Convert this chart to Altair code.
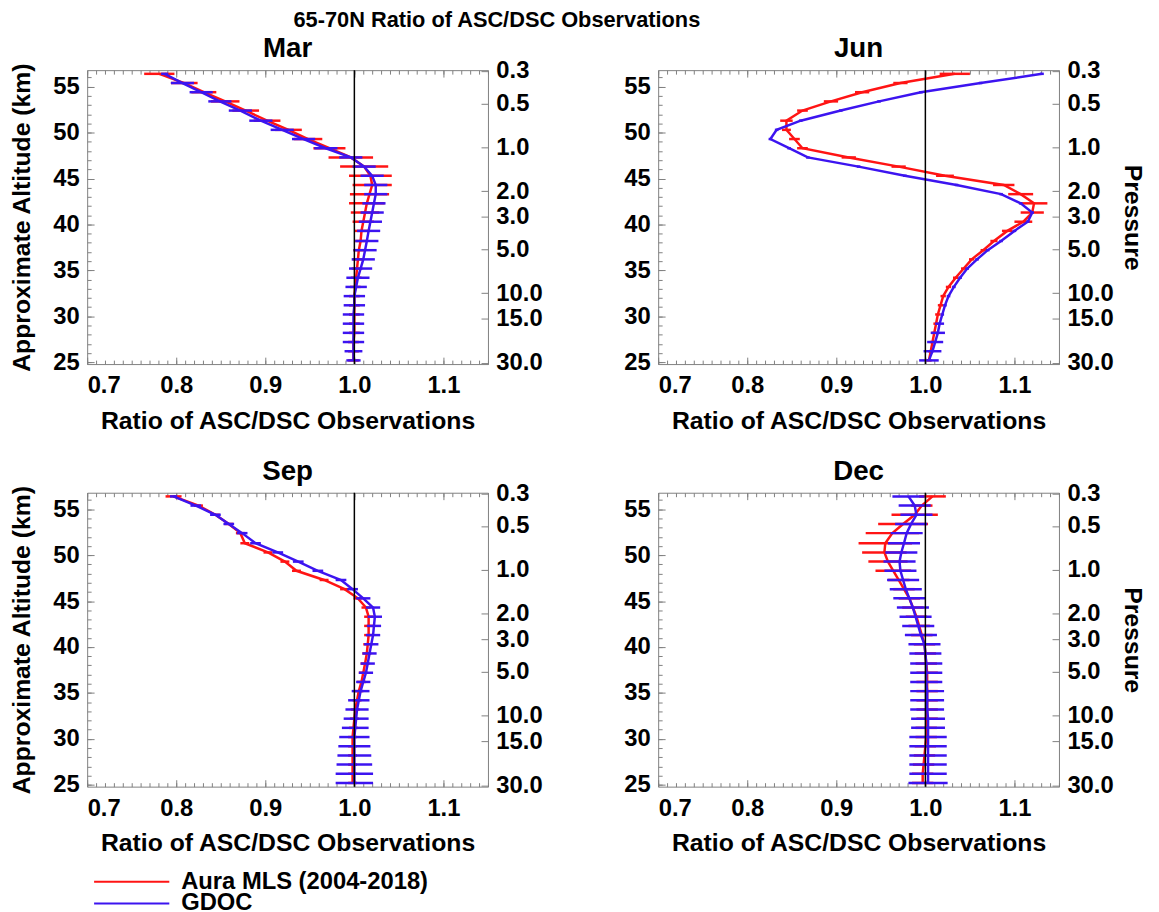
import altair as alt
import numpy as np
import pandas as pd

# ---------------- data ----------------
ALT_KM = [25.2, 26.2, 27.2, 28.2, 29.2, 30.2, 31.2, 32.2, 33.2, 34.2, 35.2, 36.2, 37.2, 38.2,
          39.3, 40.3, 41.3, 42.3, 43.3, 44.3, 45.3, 46.3, 47.3, 48.3, 49.3, 50.3, 51.3,
          52.4, 53.4, 54.4, 55.4, 56.4]

SERIES = ["Aura MLS (2004-2018)", "GDOC"]

MAR_MLS = [0.999, 0.999, 0.999, 1.000, 1.000, 1.000, 1.000, 1.000, 1.001, 1.002, 1.003, 1.004, 1.005, 1.007,
           1.008, 1.010, 1.012, 1.014, 1.017, 1.020, 1.018, 1.011, 0.996, 0.972, 0.948, 0.926, 0.902,
           0.878, 0.855, 0.831, 0.809, 0.781]
MAR_MLS_ERR = [0.006] * 14 + [0.008, 0.012, 0.016, 0.020, 0.022, 0.022, 0.024, 0.027, 0.025, 0.018, 0.016,
                              0.015, 0.015, 0.015, 0.016, 0.014, 0.015, 0.017]
MAR_GDOC = [0.999, 0.999, 0.999, 0.999, 0.999, 0.999, 1.000, 1.000, 1.002, 1.004, 1.007, 1.010, 1.012, 1.014,
            1.016, 1.018, 1.020, 1.022, 1.024, 1.024, 1.020, 1.011, 0.996, 0.968, 0.943, 0.919, 0.895,
            0.872, 0.849, 0.828, 0.807, 0.787]
MAR_GDOC_ERR = [0.008, 0.010] + [0.012] * 7 + [0.013] * 22 + [0.004]

JUN_MLS = [1.004, 1.006, 1.008, 1.010, 1.012, 1.014, 1.017, 1.020, 1.026, 1.034, 1.043, 1.052, 1.065, 1.077,
           1.092, 1.110, 1.120, 1.122, 1.107, 1.088, 1.022, 0.970, 0.914, 0.862, 0.853, 0.844, 0.844,
           0.862, 0.894, 0.929, 0.972, 1.033]
JUN_MLS_ERR = [0.003] * 13 + [0.004, 0.006, 0.010, 0.013, 0.015, 0.014, 0.012, 0.010, 0.008, 0.008, 0.006,
                              0.006, 0.005, 0.007, 0.006, 0.008, 0.008, 0.008, 0.017]
JUN_GDOC = [1.004, 1.008, 1.011, 1.014, 1.016, 1.019, 1.022, 1.026, 1.032, 1.039, 1.047, 1.058, 1.070, 1.085,
            1.100, 1.115, 1.120, 1.107, 1.085, 1.035, 0.977, 0.925, 0.868, 0.847, 0.826, 0.833, 0.860,
            0.905, 0.948, 0.995, 1.062, 1.131]
JUN_GDOC_ERR = [0.011, 0.010, 0.009, 0.008, 0.005] + [0.002] * 27

SEP_MLS = [0.998, 0.998, 0.998, 0.998, 0.998, 0.998, 0.999, 1.000, 1.001, 1.003, 1.005, 1.008, 1.010, 1.012,
           1.014, 1.015, 1.016, 1.016, 1.016, 1.013, 1.004, 0.989, 0.966, 0.935, 0.922, 0.903, 0.877,
           0.872, 0.859, 0.844, 0.825, 0.797]
SEP_MLS_ERR = [0.005] * 31 + [0.009]
SEP_GDOC = [1.000, 1.000, 1.000, 1.000, 1.000, 1.000, 1.001, 1.002, 1.003, 1.005, 1.007, 1.010, 1.013, 1.015,
            1.017, 1.019, 1.021, 1.022, 1.023, 1.021, 1.010, 0.998, 0.985, 0.959, 0.937, 0.914, 0.889,
            0.874, 0.859, 0.844, 0.822, 0.797]
SEP_GDOC_ERR = [0.021, 0.021, 0.020, 0.019, 0.018, 0.017, 0.015, 0.014, 0.013, 0.012, 0.010] + [0.008] * 10 + \
               [0.006] * 10 + [0.004]

DEC_MLS = [0.997, 0.997, 0.998, 0.999, 1.000, 1.001, 1.001, 1.002, 1.002, 1.002, 1.002, 1.002, 1.002, 1.001,
           1.000, 0.999, 0.996, 0.993, 0.990, 0.986, 0.982, 0.976, 0.970, 0.964, 0.958, 0.954, 0.955,
           0.963, 0.975, 0.988, 0.996, 1.008]
DEC_MLS_ERR = [0.012] * 23 + [0.020, 0.022, 0.025, 0.030, 0.030, 0.028, 0.026, 0.012, 0.015]
DEC_GDOC = [1.003, 1.003, 1.003, 1.003, 1.003, 1.003, 1.003, 1.003, 1.002, 1.002, 1.002, 1.001, 1.001, 1.001,
            1.000, 0.999, 0.995, 0.992, 0.989, 0.986, 0.982, 0.978, 0.975, 0.972, 0.971, 0.973, 0.976,
            0.979, 0.984, 0.990, 0.988, 0.981]
DEC_GDOC_ERR = [0.022, 0.021, 0.021, 0.021, 0.021, 0.021, 0.019, 0.019, 0.019, 0.019, 0.019] + [0.018] * 21

# axis decorations
X_MAJOR = [0.7, 0.8, 0.9, 1.0, 1.1]
X_MINOR = [round(0.70 + 0.01 * i, 2) for i in range(46)]
Y_MAJOR = [25, 30, 35, 40, 45, 50, 55]
Y_MINOR = list(range(25, 57))
PRESSURE = [0.3, 0.5, 1.0, 2.0, 3.0, 5.0, 10.0, 15.0, 30.0]
Z0, HS = 48.4, 6.9  # approximate altitude of 1 hPa and scale height (km)
P_ALT = [Z0 - HS * float(np.log(p)) for p in PRESSURE]

# ---------------- styling ----------------
RED = "#ff1414"
BLUE = "#3c14f0"
GRAY = "#808080"
FONT = "Liberation Sans"
W, H = 405, 297
XD = [0.7, 1.15]
YD = [24.8, 56.8]
LAB = 24
TIT = 25


def xs():
    return alt.Scale(domain=XD, nice=False, zero=False)


def ys():
    return alt.Scale(domain=YD, nice=False, zero=False)


def tick_axis(orient, offset, values, size):
    return alt.Axis(orient=orient, offset=offset, values=values, labels=False, domain=False,
                    grid=False, ticks=True, tickSize=size, tickColor=GRAY, tickWidth=1, title=None)


def panel(name, mls, mls_err, gdoc, gdoc_err, col):
    rows = []
    for s, vals, errs in ((SERIES[0], mls, mls_err), (SERIES[1], gdoc, gdoc_err)):
        for a, v, e in zip(ALT_KM, vals, errs):
            rows.append(dict(series=s, alt=a, val=v, lo=v - e, hi=v + e))
    df = pd.DataFrame(rows)
    red = df[df.series == SERIES[0]]
    blue = df[df.series == SERIES[1]]

    color = alt.Color("series:N", scale=alt.Scale(domain=SERIES, range=[RED, BLUE]), title=None)

    ax_x_lab = alt.Axis(orient="bottom", values=X_MAJOR, format=".1f", ticks=False, domain=False,
                        grid=False, labelFontSize=LAB, labelPadding=10,
                        title="Ratio of ASC/DSC Observations", titleFontSize=TIT, titlePadding=11)
    if col == 0:
        ax_y_lab = alt.Axis(orient="left", values=Y_MAJOR, ticks=False, domain=False, grid=False,
                            labelFontSize=LAB, labelPadding=8,
                            title="Approximate Altitude (km)", titleFontSize=TIT, titlePadding=19)
    else:
        ax_y_lab = alt.Axis(orient="left", values=Y_MAJOR, ticks=False, domain=False, grid=False,
                            labelFontSize=LAB, labelPadding=8, title=None)
    pexpr = f"format(exp(({Z0} - datum.value) / {HS}), '.1f')"
    if col == 1:
        ax_p_lab = alt.Axis(orient="right", values=P_ALT, labelExpr=pexpr, ticks=False, domain=False,
                            grid=False, labelFontSize=LAB, labelPadding=8,
                            title="Pressure", titleFontSize=TIT, titlePadding=7)
    else:
        ax_p_lab = alt.Axis(orient="right", values=P_ALT, labelExpr=pexpr, ticks=False, domain=False,
                            grid=False, labelFontSize=LAB, labelPadding=8, title=None)

    red_err = alt.Chart(red).mark_rule(strokeWidth=2.5).encode(
        x=alt.X("lo:Q", scale=xs(), axis=tick_axis("top", -H, X_MAJOR, 7)),
        x2="hi:Q",
        y=alt.Y("alt:Q", scale=ys(), axis=tick_axis("right", -W, Y_MAJOR, 7)),
        color=color,
    )
    red_line = alt.Chart(red).mark_line(strokeWidth=2.5).encode(
        x=alt.X("val:Q", scale=xs(), axis=ax_x_lab),
        y=alt.Y("alt:Q", scale=ys(), axis=ax_y_lab),
        color=color,
        order="alt:Q",
    )
    blue_err = alt.Chart(blue).mark_rule(strokeWidth=2.5).encode(
        x=alt.X("lo:Q", scale=xs(), axis=tick_axis("bottom", -H, X_MAJOR, 7)),
        x2="hi:Q",
        y=alt.Y("alt:Q", scale=ys(), axis=tick_axis("right", -W, Y_MINOR, 4)),
        color=color,
    )
    blue_line = alt.Chart(blue).mark_line(strokeWidth=2.5).encode(
        x=alt.X("val:Q", scale=xs(), axis=tick_axis("top", -H, X_MINOR, 4)),
        y=alt.Y("alt:Q", scale=ys(), axis=ax_p_lab),
        color=color,
        order="alt:Q",
    )
    vline = alt.Chart(pd.DataFrame({"one": [1.0]})).mark_rule(color="black", strokeWidth=1.5).encode(
        x=alt.X("one:Q", scale=xs(), axis=None)
    )
    axes = alt.Chart(df).mark_point(opacity=0).encode(
        x=alt.X("val:Q", scale=xs(), axis=tick_axis("bottom", -H, X_MINOR, 4)),
        y=alt.Y("alt:Q", scale=ys(), axis=tick_axis("left", -W, P_ALT, 7)),
    )
    return (
        alt.layer(red_err, red_line, blue_err, blue_line, vline, axes)
        .resolve_scale(x="independent", y="independent")
        .resolve_axis(x="independent", y="independent")
        .properties(width=W, height=H,
                    title=alt.TitleParams(name, fontSize=28, fontWeight="bold", font=FONT, offset=-4))
    )


mar = panel("Mar", MAR_MLS, MAR_MLS_ERR, MAR_GDOC, MAR_GDOC_ERR, 0)
jun = panel("Jun", JUN_MLS, JUN_MLS_ERR, JUN_GDOC, JUN_GDOC_ERR, 1)
sep = panel("Sep", SEP_MLS, SEP_MLS_ERR, SEP_GDOC, SEP_GDOC_ERR, 0)
dec = panel("Dec", DEC_MLS, DEC_MLS_ERR, DEC_GDOC, DEC_GDOC_ERR, 1)

chart = (
    alt.concat(mar, jun, sep, dec, columns=2, spacing={"row": 130, "column": 172}, bounds="flush")
    .properties(
        title=alt.TitleParams("65-70N Ratio of ASC/DSC Observations", fontSize=22, fontWeight="bold",
                              font=FONT, anchor="middle", dx=-81, offset=3),
        padding={"left": 0, "top": -4, "right": 5, "bottom": 5},
    )
    .configure(font=FONT)
    .configure_axis(labelFont=FONT, titleFont=FONT, labelFontWeight="bold", titleFontWeight="bold",
                    labelColor="black", titleColor="black")
    .configure_view(stroke=GRAY, strokeWidth=1)
    .configure_title(color="black")
    .configure_legend(orient="none", legendX=6, legendY=810, symbolType="M-1,0H1", symbolSize=5776,
                      symbolStrokeWidth=2, labelFont=FONT, labelFontWeight="bold", labelFontSize=24,
                      labelColor="black", labelOffset=11, rowPadding=-2, clipHeight=20,
                      labelLimit=500, padding=0)
)

chart.save("out.html", embed_options={"renderer": "svg", "actions": False})
